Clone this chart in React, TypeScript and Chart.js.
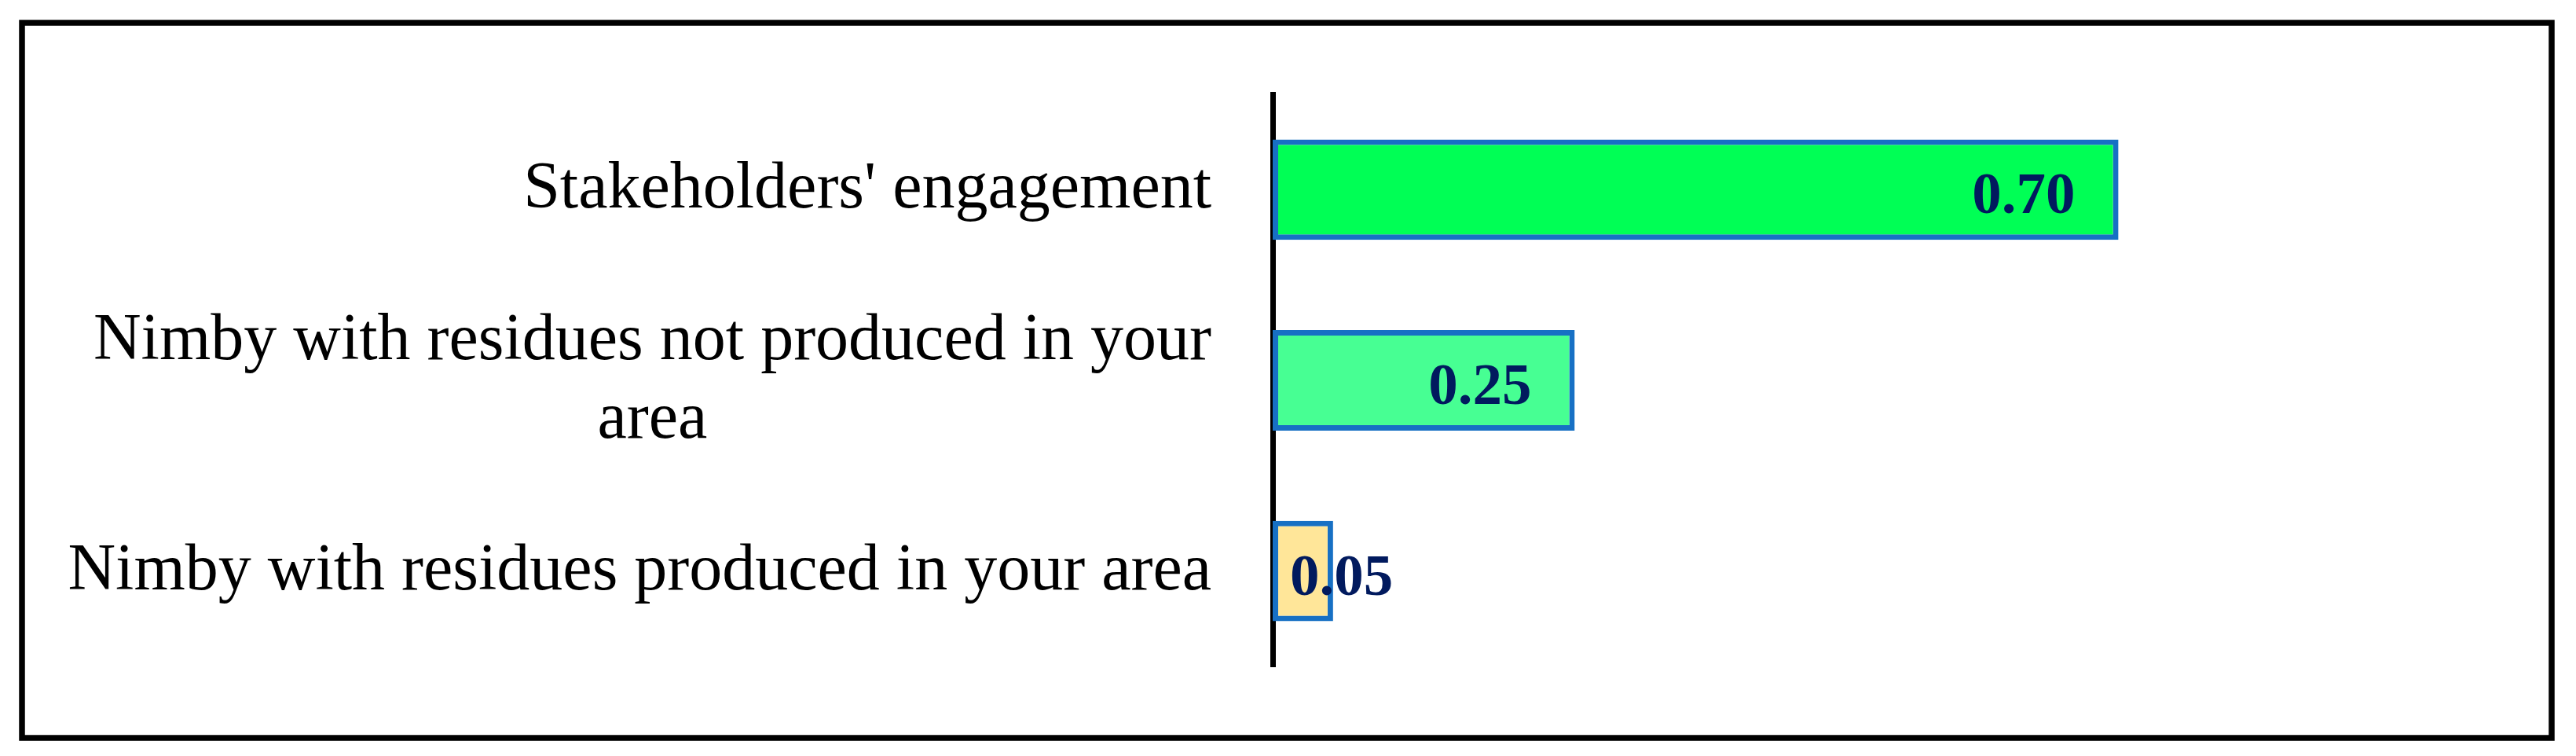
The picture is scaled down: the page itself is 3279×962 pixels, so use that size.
import React, { useEffect, useRef } from "react";
import { Chart, registerables } from "chart.js";

Chart.register(...registerables);

const categories: string[][] = [
  ["Stakeholders' engagement"],
  ["Nimby with residues not produced in your", "area"],
  ["Nimby with residues produced in your area"],
];
const values: number[] = [0.7, 0.25, 0.05];
const barColors: string[] = ["#00FF55", "#47FF93", "#FFE699"];
const xMin = 0;
const xMax = 1;

const W = 3279;
const H = 962;

const framePlugin = {
  id: "frame",
  beforeDraw(chart: any) {
    const ctx = chart.ctx;
    ctx.save();
    ctx.fillStyle = "#ffffff";
    ctx.fillRect(0, 0, chart.width, chart.height);
    ctx.strokeStyle = "#000000";
    ctx.lineWidth = 7.5;
    ctx.strokeRect(28, 29, 3220, 910);
    ctx.restore();
  },
};

const categoryLabelPlugin = {
  id: "catLabels",
  afterDraw(chart: any) {
    const ctx = chart.ctx;
    const yScale = chart.scales.y;
    const fontSize = 84;
    const lineH = 100;
    const rightEdge = 1542;
    ctx.save();
    ctx.font = `${fontSize}px "Liberation Serif", "Times New Roman", serif`;
    ctx.fillStyle = "#000000";
    ctx.textBaseline = "alphabetic";
    ctx.textAlign = "center";
    categories.forEach((lines, i) => {
      const yc = yScale.getPixelForValue(i);
      const widths = lines.map((l) => ctx.measureText(l).width);
      const blockW = Math.max(...widths);
      const cx = rightEdge - blockW / 2;
      const n = lines.length;
      lines.forEach((line, j) => {
        const y = yc + (j - (n - 1) / 2) * lineH + 23;
        ctx.fillText(line, cx, y);
      });
    });
    ctx.restore();
  },
};

const valueLabelPlugin = {
  id: "valueLabels",
  afterDraw(chart: any) {
    const ctx = chart.ctx;
    const meta = chart.getDatasetMeta(0);
    ctx.save();
    ctx.font = `bold 75px "Liberation Serif", "Times New Roman", serif`;
    ctx.fillStyle = "#011A5E";
    ctx.textBaseline = "alphabetic";
    ctx.textAlign = "left";
    meta.data.forEach((el: any, i: number) => {
      const txt = values[i].toFixed(2);
      const w = ctx.measureText(txt).width;
      let tx = el.x - 55 - w;
      if (tx < el.base + 22) tx = el.base + 22;
      ctx.fillText(txt, tx, el.y + 30);
    });
    ctx.restore();
  },
};

export default function App() {
  const ref = useRef<HTMLCanvasElement | null>(null);

  useEffect(() => {
    if (!ref.current) return;
    const chart = new Chart(ref.current, {
      type: "bar",
      data: {
        labels: categories,
        datasets: [
          {
            data: values,
            backgroundColor: barColors,
            borderColor: "#1770C4",
            borderWidth: 7,
            borderSkipped: false,
            barPercentage: 0.527,
            categoryPercentage: 1,
          },
        ],
      },
      options: {
        indexAxis: "y",
        responsive: false,
        animation: false,
        devicePixelRatio: 1,
        layout: { padding: { left: 1620, right: 121, top: 120, bottom: 114 } },
        plugins: {
          legend: { display: false },
          tooltip: { enabled: false },
          title: { display: false },
        },
        scales: {
          x: {
            display: false,
            min: xMin,
            max: xMax,
          },
          y: {
            z: 1,
            grid: { display: false, drawTicks: false },
            ticks: { display: false },
            border: { display: true, color: "#000000", width: 7 },
            afterFit: (s: any) => {
              s.width = 0;
            },
          },
        },
      } as any,
      plugins: [framePlugin, categoryLabelPlugin, valueLabelPlugin],
    });
    return () => chart.destroy();
  }, []);

  return (
    <div style={{ position: "fixed", left: 0, top: 0, width: W, height: H, background: "#fff" }}>
      <canvas ref={ref} width={W} height={H} style={{ width: W, height: H, display: "block" }} />
    </div>
  );
}
